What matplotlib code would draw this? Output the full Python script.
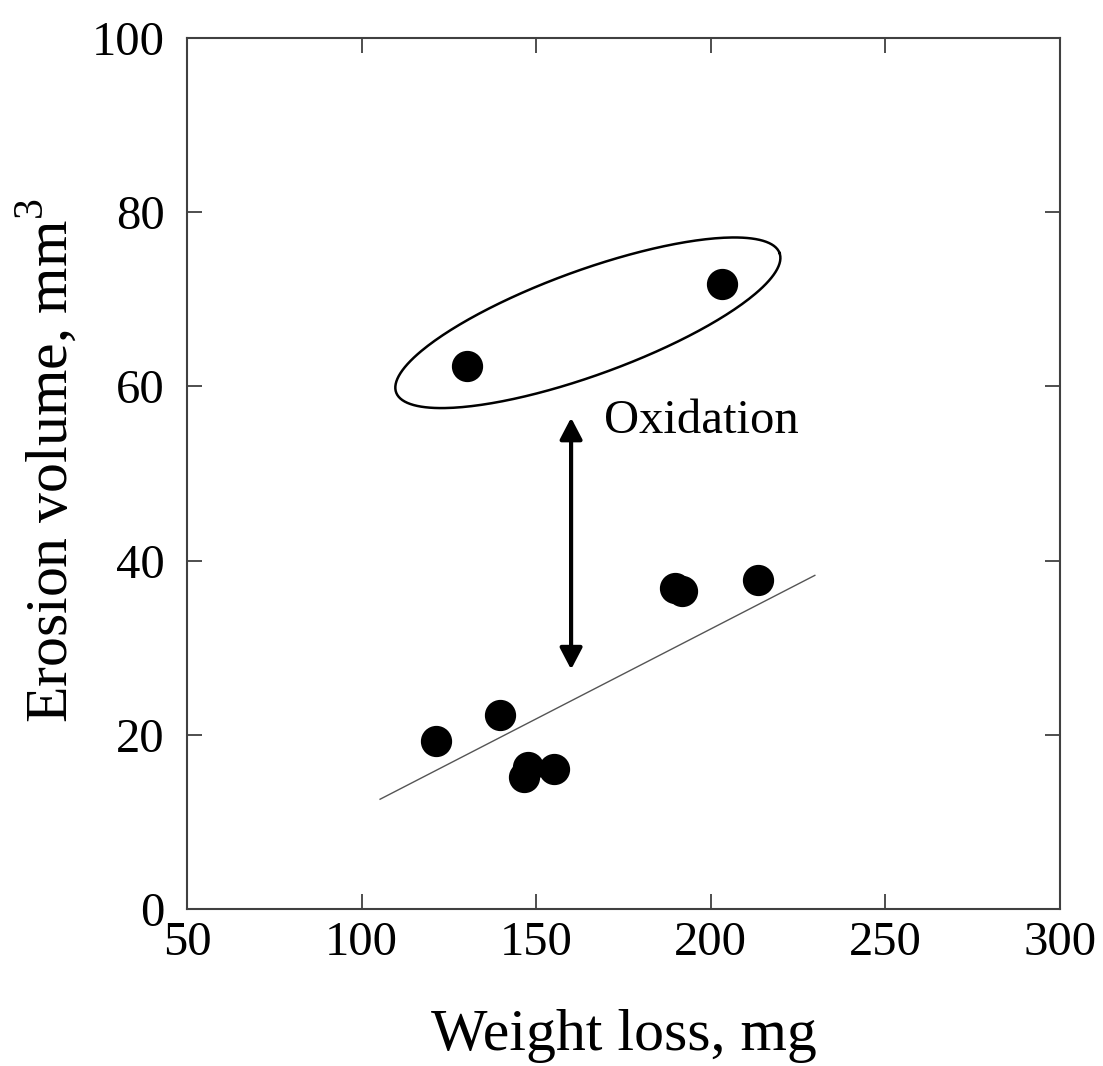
import numpy as np
import matplotlib
matplotlib.use("Agg")
import matplotlib.pyplot as plt

plt.rcParams['font.family'] = ['Liberation Serif', 'DejaVu Serif']
plt.rcParams['mathtext.fontset'] = 'custom'
plt.rcParams['mathtext.rm'] = 'Liberation Serif'

# data
weight_loss = [121.3, 139.6, 146.6, 147.7, 155.2, 189.7, 191.7, 213.5, 130.3, 203.2]
erosion_vol = [19.3, 22.3, 15.2, 16.3, 16.1, 36.9, 36.5, 37.8, 62.3, 71.8]
fit_x = [105.3, 229.8]
fit_y = [12.6, 38.3]
x_ticks = [50, 100, 150, 200, 250, 300]
y_ticks = [0, 20, 40, 60, 80, 100]

# oxidised group outline (centre, two semi-axis vectors, data units)
ell_center = (164.8, 67.3)
ell_u = (54.9, 8.0)
ell_v = (-5.1, 5.65)

fig = plt.figure(figsize=(11.03, 10.66), dpi=100)
ax = fig.add_axes([0.1695, 0.1473, 0.7915, 0.8171])

spine_col = '#404040'
for s in ax.spines.values():
    s.set_color(spine_col)
    s.set_linewidth(1.5)

ax.plot(fit_x, fit_y, color='#555555', lw=1.0)
ax.plot(weight_loss, erosion_vol, 'o', color='black', markersize=21.5)

t = np.linspace(0, 2 * np.pi, 300)
ex = ell_center[0] + ell_u[0] * np.cos(t) + ell_v[0] * np.sin(t)
ey = ell_center[1] + ell_u[1] * np.cos(t) + ell_v[1] * np.sin(t)
ax.plot(ex, ey, color='black', lw=1.8)

ax.annotate('', xy=(160, 56.4), xytext=(160, 27.5),
            arrowprops=dict(arrowstyle='<|-|>,head_length=0.65,head_width=0.34',
                            mutation_scale=20, color='black', lw=3,
                            shrinkA=0, shrinkB=0))
ax.text(169.4, 56.0, 'Oxidation', fontsize=35, va='center', ha='left')

ax.set_xlim(50, 300)
ax.set_ylim(0, 100)
ax.set_xticks(x_ticks)
ax.set_yticks(y_ticks)
ax.tick_params(direction='in', length=11, width=1.3, color=spine_col,
               top=True, right=True, labelsize=35)
ax.tick_params(axis='x', pad=9)
ax.tick_params(axis='y', pad=16)

ax.set_xlabel('Weight loss, mg', fontsize=43, labelpad=31)
ax.set_ylabel('Erosion volume, mm$^3$', fontsize=43)
ax.yaxis.set_label_coords(-0.122, 0.515)

fig.savefig('out.png', dpi=100)
